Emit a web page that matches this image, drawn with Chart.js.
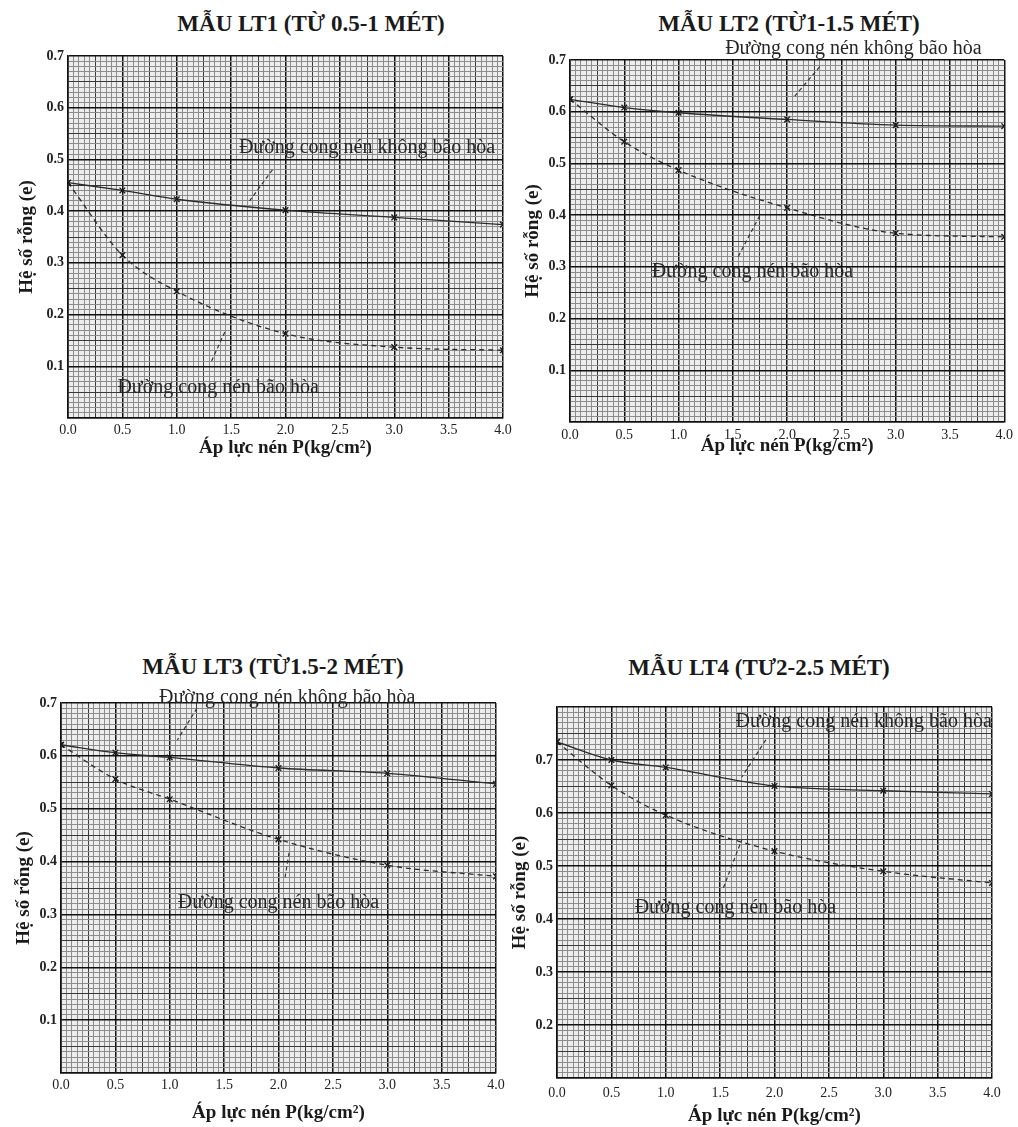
<!DOCTYPE html>
<html lang="vi">
<head>
<meta charset="utf-8">
<title>Đường cong nén</title>
<script src="https://cdn.jsdelivr.net/npm/chart.js@4.4.1/dist/chart.umd.min.js"></script>
<style>
body { margin: 0; background: #fff; width: 1018px; height: 1127px; position: relative; overflow: hidden; font-family: "Liberation Serif", serif; }
.tieude { position: absolute; transform: translateX(-50%); font-weight: bold; font-size: 23px; line-height: 26px; white-space: nowrap; color: #1a1a1a; }
.khung { position: absolute; }
</style>
</head>
<body>
<div class="tieude" style="left:311px; top:11px;">MẪU LT1 (TỪ 0.5-1 MÉT)</div>
<div class="tieude" style="left:789px; top:11px;">MẪU LT2 (TỪ1-1.5 MÉT)</div>
<div class="tieude" style="left:273px; top:654px;">MẪU LT3 (TỪ1.5-2 MÉT)</div>
<div class="tieude" style="left:759px; top:655px;">MẪU LT4 (TƯ2-2.5 MÉT)</div>

<div class="khung" style="left:0px; top:20px; width:530px; height:450px;"><canvas id="lt1"></canvas></div>
<div class="khung" style="left:509px; top:24px; width:509px; height:450px;"><canvas id="lt2"></canvas></div>
<div class="khung" style="left:0px; top:667px; width:509px; height:460px;"><canvas id="lt3"></canvas></div>
<div class="khung" style="left:509px; top:671px; width:509px; height:456px;"><canvas id="lt4"></canvas></div>

<script>
// Áp lực nén P (kg/cm2) - các cấp tải
const apLuc = [0, 0.5, 1.0, 2.0, 3.0, 4.0];
const nhanX = [0, 0.5, 1.0, 1.5, 2.0, 2.5, 3.0, 3.5, 4.0];

// Hệ số rỗng e
const lt1KhongBaoHoa = [0.455, 0.440, 0.423, 0.402, 0.388, 0.374];
const lt1BaoHoa      = [0.455, 0.315, 0.245, 0.163, 0.137, 0.131];
const lt2KhongBaoHoa = [0.624, 0.608, 0.598, 0.585, 0.574, 0.572];
const lt2BaoHoa      = [0.624, 0.542, 0.487, 0.414, 0.365, 0.358];
const lt3KhongBaoHoa = [0.621, 0.606, 0.597, 0.577, 0.567, 0.547];
const lt3BaoHoa      = [0.621, 0.556, 0.518, 0.442, 0.393, 0.372];
const lt4KhongBaoHoa = [0.734, 0.700, 0.686, 0.651, 0.642, 0.636];
const lt4BaoHoa      = [0.734, 0.652, 0.596, 0.528, 0.490, 0.468];

// nhãn trục tung
const nhanY123 = [0.1, 0.2, 0.3, 0.4, 0.5, 0.6, 0.7];
const nhanY4   = [0.2, 0.3, 0.4, 0.5, 0.6, 0.7];

const chuKhongBaoHoa = 'Đường cong nén không bão hòa';
const chuBaoHoa = 'Đường cong nén bão hòa';

// ghi chú: vị trí chữ và đường dẫn (theo giá trị P, e)
const ghiChuLt1 = [
    { chu: chuKhongBaoHoa, x: 2.75, y: 0.522, tu: [1.88, 0.48], den: [1.67, 0.42] },
    { chu: chuBaoHoa, x: 1.38, y: 0.058, tu: [1.32, 0.11], den: [1.45, 0.17] }
];
const ghiChuLt2 = [
    { chu: chuKhongBaoHoa, x: 2.61, y: 0.722, tu: [2.30, 0.687], den: [2.07, 0.63] },
    { chu: chuBaoHoa, x: 1.68, y: 0.29, tu: [1.55, 0.32], den: [1.75, 0.40] }
];
const ghiChuLt3 = [
    { chu: chuKhongBaoHoa, x: 2.08, y: 0.709, tu: [1.25, 0.69], den: [1.07, 0.63] },
    { chu: chuBaoHoa, x: 2.0, y: 0.323, tu: [2.06, 0.37], den: [2.10, 0.42] }
];
const ghiChuLt4 = [
    { chu: chuKhongBaoHoa, x: 2.82, y: 0.772, tu: [1.92, 0.738], den: [1.70, 0.668] },
    { chu: chuBaoHoa, x: 1.64, y: 0.421, tu: [1.53, 0.459], den: [1.70, 0.55] }
];

function mauLuoi(k, lon, vua) {
    if (k % lon === 0) return '#111';
    if (k % vua === 0) return '#3a3a3a';
    return '#8c8c8c';
}
function doDayLuoi(k, lon, vua) {
    if (k % lon === 0) return 1.5;
    if (k % vua === 0) return 1;
    return 1;
}

// nền giấy kẻ ô và chữ ghi chú
function ghiChuPlugin(ghiChu) {
    return {
        id: 'ghiChu',
        beforeDraw(chart) {
            const a = chart.chartArea;
            chart.ctx.save();
            chart.ctx.fillStyle = '#ededed';
            chart.ctx.fillRect(a.left, a.top, a.right - a.left, a.bottom - a.top);
            chart.ctx.restore();
        },
        afterDatasetsDraw(chart) {
            const ctx = chart.ctx;
            const sx = chart.scales.x, sy = chart.scales.y;
            ctx.save();
            ctx.font = '20px "Liberation Serif"';
            ctx.fillStyle = '#262626';
            ctx.textAlign = 'center';
            ctx.textBaseline = 'middle';
            ghiChu.forEach(g => {
                ctx.fillText(g.chu, sx.getPixelForValue(g.x), sy.getPixelForValue(g.y));
                ctx.beginPath();
                ctx.setLineDash([4, 3]);
                ctx.lineWidth = 1.2;
                ctx.strokeStyle = '#333';
                ctx.moveTo(sx.getPixelForValue(g.tu[0]), sy.getPixelForValue(g.tu[1]));
                ctx.lineTo(sx.getPixelForValue(g.den[0]), sy.getPixelForValue(g.den[1]));
                ctx.stroke();
            });
            ctx.restore();
        }
    };
}

function veBieuDo(id, khongBaoHoa, baoHoa, yMin, yMax, nhanY, bo, ghiChu) {
    const duLieu = {
        datasets: [
            {
                label: chuKhongBaoHoa,
                data: apLuc.map((p, i) => ({ x: p, y: khongBaoHoa[i] })),
                borderColor: '#2b2b2b',
                borderWidth: 1.3,
                pointStyle: 'crossRot',
                pointRadius: 4,
                pointBorderWidth: 1.3,
                pointBorderColor: '#1a1a1a',
                cubicInterpolationMode: 'monotone',
                fill: false
            },
            {
                label: chuBaoHoa,
                data: apLuc.map((p, i) => ({ x: p, y: baoHoa[i] })),
                borderColor: '#2b2b2b',
                borderWidth: 1.3,
                borderDash: [5, 4],
                pointStyle: 'crossRot',
                pointRadius: 4,
                pointBorderWidth: 1.3,
                pointBorderColor: '#1a1a1a',
                cubicInterpolationMode: 'monotone',
                fill: false
            }
        ]
    };

    const config = {
        type: 'line',
        data: duLieu,
        options: {
            responsive: true,
            maintainAspectRatio: false,
            animation: false,
            layout: { padding: { top: 36, right: bo.phai, left: 0, bottom: 0 } },
            plugins: {
                legend: { display: false },
                tooltip: { enabled: false }
            },
            scales: {
                x: {
                    type: 'linear',
                    min: 0,
                    max: 4,
                    afterFit: s => { s.height = bo.caoX; },
                    grid: {
                        drawTicks: false,
                        color: c => mauLuoi(Math.round(c.tick.value * 100), 50, 25),
                        lineWidth: c => doDayLuoi(Math.round(c.tick.value * 100), 50, 25)
                    },
                    border: { color: '#111', width: 1.6 },
                    ticks: {
                        stepSize: 0.05,
                        autoSkip: false,
                        maxRotation: 0,
                        minRotation: 0,
                        padding: bo.dem,
                        color: '#222',
                        font: { family: 'Liberation Serif', size: 14 },
                        callback: v => nhanX.some(n => Math.abs(n - v) < 1e-6) ? v.toFixed(1) : ''
                    },
                    title: {
                        display: true,
                        text: 'Áp lực nén P(kg/cm²)',
                        color: '#1a1a1a',
                        font: { family: 'Liberation Serif', size: 19, weight: 'bold' },
                        padding: { top: 0, bottom: bo.demTenX }
                    }
                },
                y: {
                    min: yMin,
                    max: yMax,
                    afterFit: s => { s.width = bo.rongY; },
                    grid: {
                        drawTicks: false,
                        color: c => mauLuoi(Math.round(c.tick.value * 100), 10, 5),
                        lineWidth: c => doDayLuoi(Math.round(c.tick.value * 100), 10, 5)
                    },
                    border: { color: '#111', width: 1.6 },
                    ticks: {
                        stepSize: 0.01,
                        autoSkip: false,
                        padding: 4,
                        color: '#222',
                        font: { family: 'Liberation Serif', size: 14, weight: 'bold' },
                        callback: v => nhanY.some(n => Math.abs(n - v) < 1e-6) ? v.toFixed(1) : ''
                    },
                    title: {
                        display: true,
                        text: 'Hệ số rỗng (e)',
                        color: '#1a1a1a',
                        font: { family: 'Liberation Serif', size: 19, weight: 'bold' },
                        padding: { top: bo.demTenY, bottom: 0 }
                    }
                }
            }
        },
        plugins: [ghiChuPlugin(ghiChu)]
    };
    const ctx = document.getElementById(id).getContext('2d');
    new Chart(ctx, config);
}

veBieuDo('lt1', lt1KhongBaoHoa, lt1BaoHoa, 0, 0.7, nhanY123,
    { phai: 27, caoX: 52, rongY: 68, dem: 4, demTenX: 11, demTenY: 16 }, ghiChuLt1);
veBieuDo('lt2', lt2KhongBaoHoa, lt2BaoHoa, 0, 0.7, nhanY123,
    { phai: 12, caoX: 52, rongY: 61, dem: 5, demTenX: 17, demTenY: 13 }, ghiChuLt2);
veBieuDo('lt3', lt3KhongBaoHoa, lt3BaoHoa, 0, 0.7, nhanY123,
    { phai: 13, caoX: 54, rongY: 61, dem: 4, demTenX: 3, demTenY: 13 }, ghiChuLt3);
veBieuDo('lt4', lt4KhongBaoHoa, lt4BaoHoa, 0.1, 0.8, nhanY4,
    { phai: 26, caoX: 49, rongY: 48, dem: 7, demTenX: 0, demTenY: 0 }, ghiChuLt4);
</script>
</body>
</html>
